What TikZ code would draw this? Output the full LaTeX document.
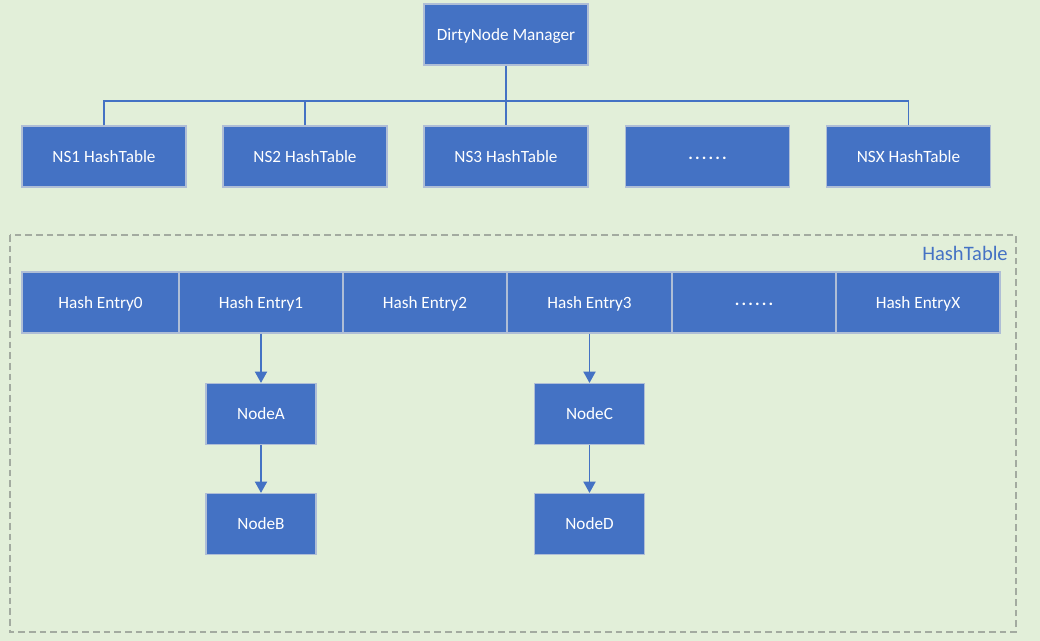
\documentclass[tikz,border=0pt]{standalone}
\usepackage{fontspec}
\setmainfont{Carlito}
\usetikzlibrary{arrows.meta}
\definecolor{bg}{HTML}{E2EFD9}
\definecolor{boxblue}{HTML}{4472C4}
\definecolor{boxedge}{HTML}{AFBED6}
\definecolor{dashgray}{HTML}{A3ABA0}
\newcommand{\sixdots}{\raisebox{1.8pt}{\textbf{.\kern1.6pt.\kern1.6pt.\kern1.6pt.\kern1.6pt.\kern1.6pt.}}}
\begin{document}
\begin{tikzpicture}[x=0.75pt,y=-0.75pt,
  bluebox/.style={rectangle,fill=boxblue,draw=boxedge,line width=0.8pt,inner sep=0pt,
    text=white,font=\fontsize{12.9}{15}\selectfont,text height=8.8pt,text depth=0pt,
    minimum width=123pt,minimum height=45.75pt},
  cell/.style={bluebox,minimum width=123pt},
  cellfirst/.style={bluebox,minimum width=117.75pt},
  smallbox/.style={bluebox,minimum width=82.5pt},
  conn/.style={draw=boxblue,line width=1.4pt},
  arr/.style={conn,-{Triangle[width=9pt,length=8.5pt]}},
  frame/.style={draw=dashgray,line width=0.8pt,dash pattern=on 5pt off 3pt}]
\useasboundingbox (0,0) rectangle (1040,641);
\fill[bg] (0,0) rectangle (1040,641);

% top level
\node[bluebox] (mgr) at (506,34.5) {DirtyNode Manager};
\node[bluebox] (ns1) at (104,156.5) {NS1 HashTable};
\node[bluebox] (ns2) at (305,156.5) {NS2 HashTable};
\node[bluebox] (ns3) at (506,156.5) {NS3 HashTable};
\node[bluebox] (nsd) at (707.5,156.5) {\sixdots};
\node[bluebox] (nsx) at (908.5,156.5) {NSX HashTable};

\coordinate (busL) at (104,101);
\coordinate (busR) at (908.5,101);
\coordinate (bus2) at (305,101);
\draw[conn] (ns1.north) -- (busL) -- (busR) -- (nsx.north);
\draw[conn] (mgr.south) -- (ns3.north);
\draw[conn] (bus2) -- (ns2.north);

% hash table frame
\draw[frame] (10,235) rectangle (1016,632);
\node[anchor=east,inner sep=0pt,text=boxblue,font=\fontsize{15.4}{18}\selectfont] (htlabel) at (1008,253) {HashTable};

% hash entries
\node[cellfirst] (e0) at (100.5,302.5) {Hash Entry0};
\node[cell] (e1) at (261,302.5) {Hash Entry1};
\node[cell] (e2) at (425,302.5) {Hash Entry2};
\node[cell] (e3) at (589.5,302.5) {Hash Entry3};
\node[cell] (e4) at (754,302.5) {\sixdots};
\node[cell] (e5) at (918,302.5) {Hash EntryX};

% chained nodes
\node[smallbox] (na) at (261,414) {NodeA};
\node[smallbox] (nb) at (261,524) {NodeB};
\node[smallbox] (nc) at (589.5,414) {NodeC};
\node[smallbox] (nd) at (589.5,524) {NodeD};

\draw[arr] (e1.south) -- (na.north);
\draw[arr] (na.south) -- (nb.north);
\draw[arr] (e3.south) -- (nc.north);
\draw[arr] (nc.south) -- (nd.north);
\end{tikzpicture}
\end{document}
